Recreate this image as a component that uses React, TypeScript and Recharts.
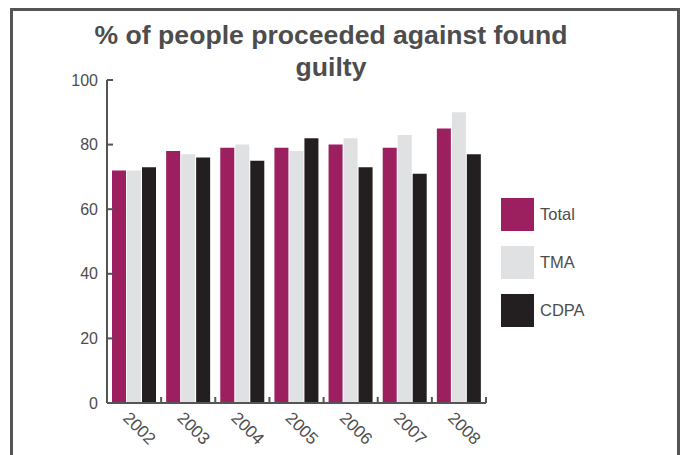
import React from 'react';
import { BarChart, Bar, XAxis, YAxis } from 'recharts';

const years = ['2002', '2003', '2004', '2005', '2006', '2007', '2008'];
const totalValues = [72, 78, 79, 79, 80, 79, 85];
const tmaValues = [72, 77, 80, 78, 82, 83, 90];
const cdpaValues = [73, 76, 75, 82, 73, 71, 77];
const yTicks = [0, 20, 40, 60, 80, 100];
const titleLines = ['% of people proceeded against found', 'guilty'];
const seriesNames = ['Total', 'TMA', 'CDPA'];
const seriesColors = ['#9c1f60', '#e0e1e3', '#231f20'];

const data = years.map((y, i) => ({
  year: y,
  Total: totalValues[i],
  TMA: tmaValues[i],
  CDPA: cdpaValues[i],
}));

const FONT = '"Liberation Sans", Arial, Helvetica, sans-serif';
const TEXT = '#4d4d4d';
const AXIS = '#555555';

const XTick = (props: any) => {
  const { x, y, payload } = props;
  const half = payload && typeof payload.offset === 'number' ? payload.offset : 27;
  const tx = x - 12;
  const ty = y + 16;
  return (
    <g>
      <line x1={x + half} x2={x + half} y1={y} y2={y - 6} stroke={AXIS} strokeWidth={2} />
      <text
        x={tx}
        y={ty}
        transform={`rotate(45 ${tx} ${ty})`}
        textAnchor="start"
        fontSize={17}
        fontFamily={FONT}
        fill={TEXT}
      >
        {payload.value}
      </text>
    </g>
  );
};

export default function App() {
  return (
    <div
      style={{
        position: 'fixed',
        left: 0,
        top: 0,
        width: 683,
        height: 455,
        overflow: 'hidden',
        background: '#fff',
        fontFamily: FONT,
      }}
    >
      <div
        style={{
          position: 'absolute',
          left: 10,
          top: 8,
          width: 664,
          height: 470,
          border: `3px solid ${AXIS}`,
        }}
      />
      <div
        style={{
          position: 'absolute',
          left: 31,
          width: 600,
          top: 19,
          textAlign: 'center',
          fontSize: 26.6,
          lineHeight: '32px',
          fontWeight: 'bold',
          color: TEXT,
          whiteSpace: 'nowrap',
        }}
      >
        {titleLines.map((l) => (
          <div key={l}>{l}</div>
        ))}
      </div>
      <div style={{ position: 'absolute', left: 0, top: 0 }}>
        <BarChart
          width={683}
          height={455}
          data={data}
          margin={{ top: 80, right: 197, left: 57, bottom: 0 }}
          barCategoryGap={5}
          barGap={1}
        >
          <XAxis
            dataKey="year"
            height={52}
            axisLine={{ stroke: AXIS, strokeWidth: 2 }}
            tickLine={false}
            tickSize={0}
            tickMargin={0}
            tick={<XTick />}
            interval={0}
          />
          <YAxis
            width={50}
            domain={[0, 100]}
            ticks={yTicks}
            axisLine={{ stroke: AXIS, strokeWidth: 2 }}
            tickLine={{ stroke: AXIS, strokeWidth: 2 }}
            tickSize={-6}
            tickMargin={15}
            tick={{ fontSize: 16, fill: TEXT, fontFamily: FONT }}
          />
          {seriesNames.map((n, i) => (
            <Bar key={n} dataKey={n} fill={seriesColors[i]} isAnimationActive={false} />
          ))}
        </BarChart>
      </div>
      <div style={{ position: 'absolute', left: 501, top: 198 }}>
        {seriesNames.map((n, i) => (
          <div key={n} style={{ display: 'flex', alignItems: 'center', height: 33, marginBottom: 15 }}>
            <div style={{ width: 33, height: 33, background: seriesColors[i] }} />
            <span style={{ marginLeft: 6, fontSize: 16.5, color: TEXT }}>{n}</span>
          </div>
        ))}
      </div>
    </div>
  );
}
